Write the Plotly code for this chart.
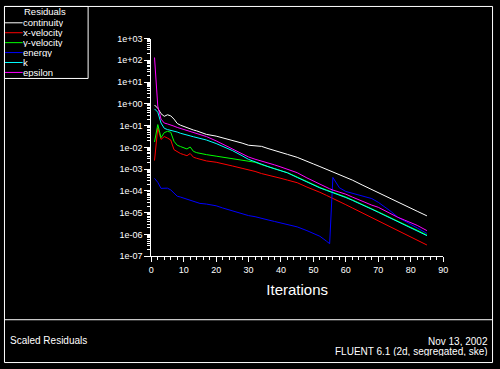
import plotly.graph_objects as go

W, H = 500, 369

iterations = [1, 2, 3, 4, 5, 6, 7, 8, 9, 10, 11, 12, 13, 14, 15, 17, 20, 22, 25, 28, 30,
              32, 34, 36, 38, 40, 42, 45, 48, 50, 52, 54, 55, 56, 57, 58, 60, 62, 65, 68,
              70, 72, 74, 76, 78, 80, 82, 85]

continuity = [0.89, 0.63, 0.355, 0.269, 0.316, 0.282, 0.2, 0.126, 0.105, 0.0912, 0.0794,
              0.0708, 0.0631, 0.0575, 0.0501, 0.0398, 0.0331, 0.0275, 0.0224, 0.0158,
              0.0126, 0.0117, 0.0112, 8.9e-3, 7.1e-3, 5.9e-3, 4.8e-3, 3.5e-3, 2.2e-3,
              1.74e-3, 1.32e-3, 1.0e-3, 8.5e-4, 7.6e-4, 6.6e-4, 5.75e-4, 4.4e-4, 3.16e-4,
              1.9e-4, 1.15e-4, 8.1e-5, 5.75e-5, 4.1e-5, 2.95e-5, 2.2e-5, 1.62e-5, 1.17e-5,
              7.2e-6]

x_velocity = [2.5e-3, 7.9e-2, 2.34e-2, 3.16e-2, 2.69e-2, 2.19e-2, 7.9e-3, 6.3e-3, 5.25e-3,
              4.68e-3, 4.17e-3, 5.25e-3, 3.55e-3, 3.16e-3, 2.82e-3, 2.4e-3, 2.09e-3, 1.82e-3,
              1.41e-3, 1.1e-3, 9.5e-4, 7.9e-4, 6.3e-4, 5.4e-4, 4.7e-4, 3.8e-4, 3.16e-4,
              2.4e-4, 1.51e-4, 1.17e-4, 8.7e-5, 6.3e-5, 5.4e-5, 4.57e-5, 3.9e-5, 3.3e-5,
              2.34e-5, 1.66e-5, 1.0e-5, 5.9e-6, 4.17e-6, 2.95e-6, 2.09e-6, 1.48e-6, 1.07e-6,
              7.6e-7, 5.5e-7, 3.3e-7]

y_velocity = [1.78e-2, 0.112, 2.82e-2, 4.79e-2, 5.5e-2, 5.0e-2, 1.91e-2, 1.26e-2, 1.1e-2,
              9.3e-3, 8.5e-3, 1.05e-2, 6.6e-3, 5.75e-3, 5.25e-3, 4.68e-3, 3.98e-3, 3.55e-3,
              3.02e-3, 2.63e-3, 2.4e-3, 2.09e-3, 1.62e-3, 1.29e-3, 1.05e-3, 8.7e-4, 6.9e-4,
              4.37e-4, 2.63e-4, 1.91e-4, 1.45e-4, 1.12e-4, 1.0e-4, 8.9e-5, 7.9e-5, 6.9e-5,
              5.25e-5, 3.9e-5, 2.5e-5, 1.51e-5, 1.1e-5, 7.9e-6, 5.6e-6, 4.0e-6, 2.88e-6,
              2.14e-6, 1.58e-6, 9.5e-7]

energy = [3.8e-4, 2.5e-4, 1.32e-4, 1.35e-4, 1.35e-4, 1.12e-4, 7.9e-5, 5.75e-5, 5.25e-5,
          4.68e-5, 3.98e-5, 3.63e-5, 3.16e-5, 2.82e-5, 2.69e-5, 2.51e-5, 2.09e-5, 1.66e-5,
          1.2e-5, 8.9e-6, 7.4e-6, 6.6e-6, 5.75e-6, 4.68e-6, 3.98e-6, 3.3e-6, 2.82e-6,
          2.24e-6, 1.51e-6, 1.12e-6, 8.3e-7, 5.0e-7, 3.8e-7, 4.17e-4, 2.24e-4, 1.41e-4,
          9.5e-5, 7.9e-5, 6.3e-5, 4.47e-5, 3.02e-5, 1.86e-5, 1.12e-5, 6.3e-6, 4.17e-6,
          2.82e-6, 2.0e-6, 1.12e-6]

k = [0.589, 0.417, 0.132, 7.6e-2, 6.6e-2, 6.2e-2, 5.6e-2, 5.1e-2, 4.47e-2, 3.98e-2,
     3.63e-2, 3.39e-2, 3.09e-2, 2.82e-2, 2.63e-2, 2.19e-2, 1.51e-2, 1.12e-2, 7.2e-3,
     4.17e-3, 2.82e-3, 2.19e-3, 1.66e-3, 1.32e-3, 1.05e-3, 8.5e-4, 6.8e-4, 4.17e-4,
     2.51e-4, 1.82e-4, 1.38e-4, 1.07e-4, 9.5e-5, 8.5e-5, 7.6e-5, 6.6e-5, 5.0e-5, 3.72e-5,
     2.4e-5, 1.45e-5, 1.05e-5, 7.6e-6, 5.4e-6, 3.8e-6, 2.75e-6, 2.04e-6, 1.51e-6, 8.9e-7]

epsilon = [135, 0.794, 0.2, 0.132, 0.12, 0.11, 9.5e-2, 8.3e-2, 7.4e-2, 6.6e-2, 6.0e-2,
           5.4e-2, 4.9e-2, 4.37e-2, 3.89e-2, 3.16e-2, 2.0e-2, 1.41e-2, 8.7e-3, 5.0e-3,
           3.63e-3, 2.88e-3, 2.4e-3, 2.0e-3, 1.58e-3, 1.26e-3, 1.0e-3, 6.9e-4, 3.98e-4,
           2.82e-4, 2.0e-4, 1.45e-4, 1.26e-4, 1.1e-4, 1.0e-4, 8.9e-5, 7.1e-5, 5.25e-5,
           3.3e-5, 2.24e-5, 1.78e-5, 1.26e-5, 8.5e-6, 6.2e-6, 4.68e-6, 3.55e-6, 2.63e-6,
           1.51e-6]

series_names = ["continuity", "x-velocity", "y-velocity", "energy", "k", "epsilon"]
series_values = [continuity, x_velocity, y_velocity, energy, k, epsilon]
series_colors = ["#ffffff", "#ff0000", "#00ff00", "#0000ff", "#00ffff", "#ff00ff"]

y_tickvals = [1e-7, 1e-6, 1e-5, 1e-4, 1e-3, 1e-2, 1e-1, 1e0, 1e1, 1e2, 1e3]
y_ticktext = ["1e-07", "1e-06", "1e-05", "1e-04", "1e-03", "1e-02", "1e-01",
              "1e+00", "1e+01", "1e+02", "1e+03"]

legend_title = "Residuals"
footer_left = "Scaled Residuals"
footer_right = ["Nov 13, 2002", "FLUENT 6.1 (2d, segregated, ske)"]

FONT = "Liberation Sans, Arial, Helvetica, sans-serif"


def px(x):
    return x / W


def py(y):
    return 1 - y / H


fig = go.Figure()
for name, vals, col in zip(series_names, series_values, series_colors):
    fig.add_trace(go.Scatter(x=iterations, y=vals, mode="lines", name=name,
                             line=dict(color=col, width=1), showlegend=False))

shapes = []
annotations = []

# outer frame and footer separator
shapes.append(dict(type="rect", xref="paper", yref="paper",
                   x0=px(1.5), x1=px(497.5), y0=py(367.5), y1=py(1.5),
                   line=dict(color="white", width=1)))
shapes.append(dict(type="line", xref="paper", yref="paper",
                   x0=px(1.5), x1=px(497.5), y0=py(323.5), y1=py(323.5),
                   line=dict(color="white", width=1)))

# legend box
shapes.append(dict(type="rect", xref="paper", yref="paper",
                   x0=px(1.5), x1=px(86.5), y0=py(75.5), y1=py(1.5),
                   line=dict(color="white", width=1)))
annotations.append(dict(text=legend_title, xref="paper", yref="paper",
                        x=px(43), y=py(6.5), xanchor="center", yanchor="middle",
                        showarrow=False, height=9, valign="middle", borderpad=0,
                        font=dict(color="white", size=9.5, family=FONT)))
for i, (name, col) in enumerate(zip(series_names, series_colors)):
    yy = 18.3 + i * 10.2
    shapes.append(dict(type="line", xref="paper", yref="paper",
                       x0=px(2), x1=px(20), y0=py(yy), y1=py(yy),
                       line=dict(color=col, width=1)))
    annotations.append(dict(text=name, xref="paper", yref="paper",
                            x=px(19.5), y=py(yy - 0.3), xanchor="left", yanchor="middle",
                            showarrow=False, height=9, valign="middle", borderpad=0,
                            font=dict(color="white", size=9.5, family=FONT)))

# footer texts
annotations.append(dict(text=footer_left, xref="paper", yref="paper",
                        x=px(5), y=py(345), xanchor="left", yanchor="middle",
                        showarrow=False, font=dict(color="white", size=10, family=FONT)))
annotations.append(dict(text=footer_right[0], xref="paper", yref="paper",
                        x=px(494), y=py(345), xanchor="right", yanchor="middle",
                        showarrow=False, height=10, valign="middle", borderpad=0,
                        font=dict(color="white", size=10, family=FONT)))
annotations.append(dict(text=footer_right[1], xref="paper", yref="paper",
                        x=px(494), y=py(355.5), xanchor="right", yanchor="middle",
                        showarrow=False, height=10, valign="middle", borderpad=0,
                        font=dict(color="white", size=10, family=FONT)))

fig.update_layout(
    width=W, height=H,
    margin=dict(l=0, r=0, t=0, b=0),
    paper_bgcolor="black", plot_bgcolor="black",
    font=dict(family=FONT, color="white", size=9),
    shapes=shapes, annotations=annotations,
    xaxis=dict(domain=[px(150.7), px(447.3)], range=[0, 90], dtick=10, tick0=0,
               showgrid=False, zeroline=False, showline=True, linecolor="white",
               linewidth=1, ticks="outside", ticklen=5, tickcolor="white",
               tickfont=dict(size=9, color="white", family=FONT),
               minor=dict(dtick=2, ticks="outside", ticklen=3, tickcolor="white",
                          showgrid=False),
               title=dict(text="Iterations", standoff=10,
                          font=dict(size=15, color="white", family=FONT))),
    yaxis=dict(domain=[py(258.3), py(34.5)], type="log", range=[-7, 3],
               tickvals=y_tickvals, ticktext=y_ticktext,
               showgrid=False, zeroline=False, showline=True, linecolor="white",
               linewidth=1, ticks="outside", ticklen=6, tickcolor="white",
               tickfont=dict(size=9, color="white", family=FONT),
               minor=dict(dtick="D1", ticks="outside", ticklen=3, tickcolor="white",
                          showgrid=False)),
)

page_css = ("var s=document.createElement('style');"
            "s.textContent='html,body{margin:0;padding:0;width:500px;height:369px;"
            "overflow:hidden;background:#000;}';"
            "document.head.appendChild(s);")

fig.write_html("out.html", config={"displayModeBar": False}, post_script=page_css)
